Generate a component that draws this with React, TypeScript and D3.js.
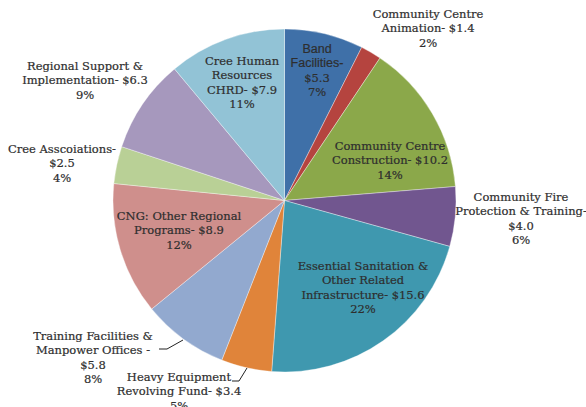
import React from "react";
import * as d3 from "d3";

const categories = [
  "Band Facilities",
  "Community Centre Animation",
  "Community Centre Construction",
  "Community Fire Protection & Training",
  "Essential Sanitation & Other Related Infrastructure",
  "Heavy Equipment Revolving Fund",
  "Training Facilities & Manpower Offices",
  "CNG: Other Regional Programs",
  "Cree Asscoiations",
  "Regional Support & Implementation",
  "Cree Human Resources CHRD",
];
const values = [5.3, 1.4, 10.2, 4.0, 15.6, 3.4, 5.8, 8.9, 2.5, 6.3, 7.9];
const percents = ["7%", "2%", "14%", "6%", "22%", "5%", "8%", "12%", "4%", "9%", "11%"];
const colors = [
  "#3f70a8", "#b5443f", "#8ba84a", "#71568f", "#3f98af", "#e0843a",
  "#92a9cf", "#cf8f8c", "#b9d096", "#a698bd", "#92c3d6",
];
const labelLines: string[][] = [
  ["Band", "Facilities-", "$5.3", "7%"],
  ["Community Centre", "Animation-  $1.4", "2%"],
  ["Community Centre", "Construction-  $10.2", "14%"],
  ["Community Fire", "Protection & Training-", "$4.0", "6%"],
  ["Essential Sanitation &", "Other Related", "Infrastructure-  $15.6", "22%"],
  ["Heavy Equipment", "Revolving Fund- $3.4", "5%"],
  ["Training Facilities &", "Manpower Offices -", "$5.8", "8%"],
  ["CNG: Other Regional", "Programs- $8.9", "12%"],
  ["Cree Asscoiations-", "$2.5", "4%"],
  ["Regional Support &", "Implementation- $6.3", "9%"],
  ["Cree Human", "Resources", "CHRD- $7.9", "11%"],
];
const labelPos: [number, number][] = [
  [317, 53],
  [428, 18],
  [390, 150],
  [521, 201],
  [363, 270],
  [179, 381],
  [93, 340],
  [179, 220],
  [62, 153],
  [85, 70],
  [242, 65],
];
const leaders: [number, number][][] = [
  [], [], [], [], [],
  [[232, 381], [239, 381], [247, 368]],
  [[159, 349], [167, 349], [183, 340]],
  [], [], [], [],
];

const W = 586, H = 407;
const cx = 284.5, cy = 200.5, R = 171.5;

export default function App() {
  const pie = d3.pie<number>().sort(null).value((d) => d)(values);
  const arc = d3.arc<d3.PieArcDatum<number>>().innerRadius(0).outerRadius(R);
  const line = d3.line();
  return (
    <svg width={W} height={H} style={{ position: "absolute", left: 0, top: 0, background: "#fff" }}>
      <g transform={`translate(${cx},${cy})`}>
        {pie.map((p, i) => (
          <path key={i} d={arc(p) || ""} fill={colors[i]} stroke="#ffffff" strokeOpacity={0.6} strokeWidth={0.6} />
        ))}
      </g>
      {leaders.map((l, i) =>
        l.length ? <path key={i} d={line(l) || ""} fill="none" stroke="#222" strokeWidth={1} /> : null
      )}
      {labelLines.map((lines, i) => (
        <text key={i} textAnchor="middle" fontFamily="'DejaVu Serif', serif" fontSize={11.5}
          fill="#2e2e2e" stroke="#2e2e2e" strokeWidth={0.2}>
          {lines.map((t, j) => (
            <tspan
              key={j}
              x={labelPos[i][0]}
              y={labelPos[i][1] + j * 14.3}
              fontFamily={i === 0 && j < 2 ? "'Liberation Sans', Arial, sans-serif" : undefined}
              fontSize={i === 0 && j < 2 ? 12.5 : undefined}
            >
              {t}
            </tspan>
          ))}
        </text>
      ))}
    </svg>
  );
}
